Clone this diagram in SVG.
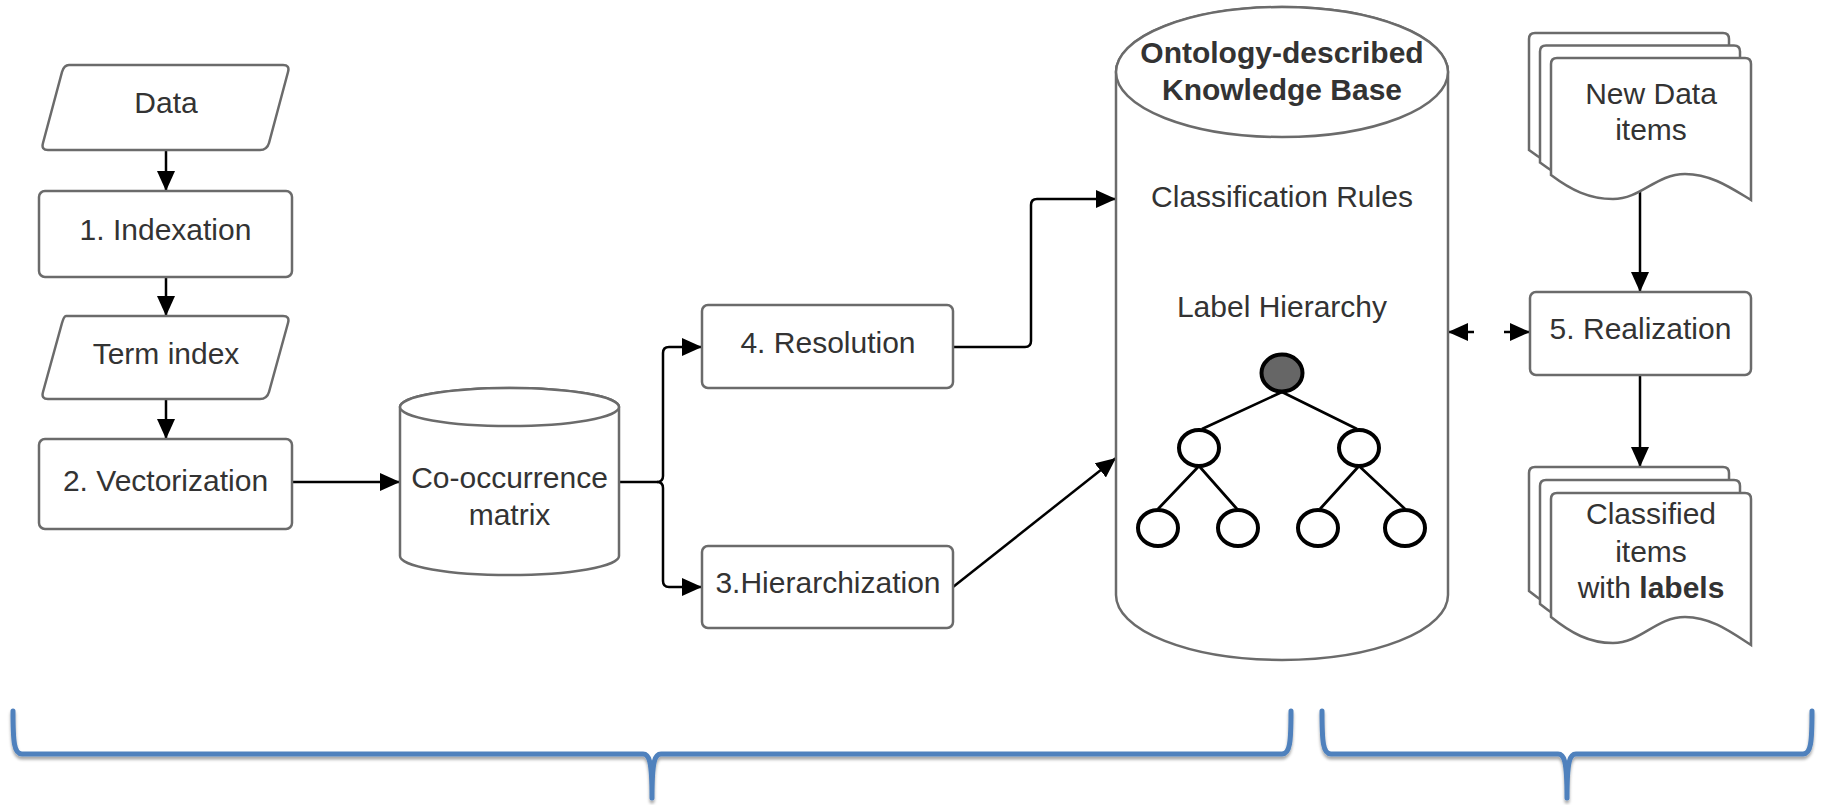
<svg xmlns="http://www.w3.org/2000/svg" width="1829" height="805" viewBox="0 0 1829 805">
  <style>
    .shape { fill: #ffffff; stroke: #6b6b6b; stroke-width: 2.5; }
    .txt { font-family: "Liberation Sans", Arial, sans-serif; font-size: 30px; fill: #333333; text-anchor: middle; }
    .bold { font-weight: bold; }
    .conn { fill: none; stroke: #000000; stroke-width: 2.5; }
    .tree-line { fill: none; stroke: #000000; stroke-width: 2.7; }
    .tree-node { fill: #ffffff; stroke: #000000; stroke-width: 4; }
    .brace { fill: none; stroke: #4f81bd; stroke-width: 5; stroke-linecap: round; stroke-linejoin: round; }
  </style>
  <defs>
    <marker id="arrow" markerUnits="userSpaceOnUse" markerWidth="20" markerHeight="18" refX="20" refY="9" orient="auto-start-reverse">
      <path d="M0,0 L20,9 L0,18 Z" fill="#000000"/>
    </marker>
    <filter id="braceShadow" x="-5%" y="-30%" width="110%" height="180%">
      <feDropShadow dx="0" dy="3" stdDeviation="1.6" flood-color="#000000" flood-opacity="0.35"/>
    </filter>
    <!-- document sheet with wavy bottom, local origin at top-left -->
    <path id="sheetSmall" d="M0,6 Q0,0 6,0 H194 Q200,0 200,6 V142 C180,130 160,116 134,116 C105,116 90,141 62,141 C38,141 20,132 0,117 Z"/>
    <path id="sheetTall" d="M0,6 Q0,0 6,0 H194 Q200,0 200,6 V152 C180,139 160,124 134,124 C105,124 90,150 62,150 C38,150 20,140 0,124 Z"/>
  </defs>

  <!-- connectors -->
  <g id="connectors">
    <path class="conn" d="M166,150 V191" marker-end="url(#arrow)"/>
    <path class="conn" d="M166,277 V316" marker-end="url(#arrow)"/>
    <path class="conn" d="M166,399 V439" marker-end="url(#arrow)"/>
    <path class="conn" d="M292,482 H400" marker-end="url(#arrow)"/>
    <path class="conn" d="M619,482 H657 Q663,482 663,476 V353 Q663,347 669,347 H702" marker-end="url(#arrow)"/>
    <path class="conn" d="M657,482 Q663,482 663,488 V581 Q663,587 669,587 H702" marker-end="url(#arrow)"/>
    <path class="conn" d="M953,347 H1025 Q1031,347 1031,341 V205 Q1031,199 1037,199 H1116" marker-end="url(#arrow)"/>
    <path class="conn" d="M953,587 L1116,458" marker-end="url(#arrow)"/>
    <path class="conn" d="M1448,332 H1530" stroke-dasharray="26 30" marker-start="url(#arrow)" marker-end="url(#arrow)"/>
    <path class="conn" d="M1640,192 V292" marker-end="url(#arrow)"/>
    <path class="conn" d="M1640,375 V467" marker-end="url(#arrow)"/>
  </g>

  <g id="data">
    <path class="shape" d="M69,65 H283 Q290,65 288,72 L269,143 Q267,150 260,150 H48 Q41,150 43,143 L62,72 Q64,65 69,65 Z"/>
    <text class="txt" x="166" y="113">Data</text>
  </g>

  <g id="indexation">
    <rect class="shape" x="39" y="191" width="253" height="86" rx="6"/>
    <text class="txt" x="165.5" y="240">1. Indexation</text>
  </g>

  <g id="term-index">
    <path class="shape" d="M66,316 H283 Q290,316 288,323 L269,392 Q267,399 260,399 H48 Q41,399 43,392 L62,323 Q64,316 66,316 Z"/>
    <text class="txt" x="166" y="364">Term index</text>
  </g>

  <g id="vectorization">
    <rect class="shape" x="39" y="439" width="253" height="90" rx="6"/>
    <text class="txt" x="165.5" y="491">2. Vectorization</text>
  </g>

  <g id="cooccurrence">
    <path class="shape" d="M400,407 A109.5,19 0 0 1 619,407 V556 A109.5,19 0 0 1 400,556 Z"/>
    <ellipse class="shape" cx="509.5" cy="407" rx="109.5" ry="19"/>
    <text class="txt" x="509.5" y="488">Co-occurrence</text>
    <text class="txt" x="509.5" y="525">matrix</text>
  </g>

  <g id="resolution">
    <rect class="shape" x="702" y="305" width="251" height="83" rx="6"/>
    <text class="txt" x="828" y="353">4. Resolution</text>
  </g>

  <g id="hierarchization">
    <rect class="shape" x="702" y="546" width="251" height="82" rx="6"/>
    <text class="txt" x="828" y="593">3.Hierarchization</text>
  </g>

  <g id="knowledge-base">
    <path class="shape" d="M1116,72 A166,65 0 0 1 1448,72 V595 A166,65 0 0 1 1116,595 Z"/>
    <ellipse class="shape" cx="1282" cy="72" rx="166" ry="65"/>
    <text class="txt bold" x="1282" y="63">Ontology-described</text>
    <text class="txt bold" x="1282" y="100">Knowledge Base</text>
    <text class="txt" x="1282" y="207">Classification Rules</text>
    <text class="txt" x="1282" y="317">Label Hierarchy</text>
    <g id="label-tree">
      <path class="tree-line" d="M1282,392 L1202,429 M1282,392 L1357,429 M1199,466 L1158,509 M1199,466 L1237,509 M1359,466 L1320,509 M1359,466 L1405,509"/>
      <ellipse class="tree-node" cx="1282" cy="373" rx="20.5" ry="18.5" fill="#666666" style="fill:#666666"/>
      <ellipse class="tree-node" cx="1199" cy="448" rx="20" ry="18"/>
      <ellipse class="tree-node" cx="1359" cy="448" rx="20" ry="18"/>
      <ellipse class="tree-node" cx="1158" cy="528" rx="20" ry="18"/>
      <ellipse class="tree-node" cx="1238" cy="528" rx="20" ry="18"/>
      <ellipse class="tree-node" cx="1318" cy="528" rx="20" ry="18"/>
      <ellipse class="tree-node" cx="1405" cy="528" rx="20" ry="18"/>
    </g>
  </g>

  <g id="new-data-items">
    <use href="#sheetSmall" class="shape" transform="translate(1529,33)"/>
    <use href="#sheetSmall" class="shape" transform="translate(1540,45.5)"/>
    <use href="#sheetSmall" class="shape" transform="translate(1551,58)"/>
    <text class="txt" x="1651" y="104">New Data</text>
    <text class="txt" x="1651" y="140">items</text>
  </g>

  <g id="realization">
    <rect class="shape" x="1530" y="292" width="221" height="83" rx="6"/>
    <text class="txt" x="1640.5" y="339">5. Realization</text>
  </g>

  <g id="classified-items">
    <use href="#sheetTall" class="shape" transform="translate(1529,467)"/>
    <use href="#sheetTall" class="shape" transform="translate(1540,480)"/>
    <use href="#sheetTall" class="shape" transform="translate(1551,493)"/>
    <text class="txt" x="1651" y="524">Classified</text>
    <text class="txt" x="1651" y="562">items</text>
    <text class="txt" x="1651" y="598">with <tspan class="bold">labels</tspan></text>
  </g>

  <g id="braces" filter="url(#braceShadow)">
    <path class="brace" d="M13,711 C13,742 14,754 22,754 L643,754 C649,754 652,760 652,798 C652,760 655,754 661,754 L1282,754 C1290,754 1291,742 1291,711"/>
    <path class="brace" d="M1322,711 C1322,742 1323,754 1331,754 L1558,754 C1564,754 1567,760 1567,798 C1567,760 1570,754 1576,754 L1803,754 C1811,754 1812,742 1812,711"/>
  </g>
</svg>
